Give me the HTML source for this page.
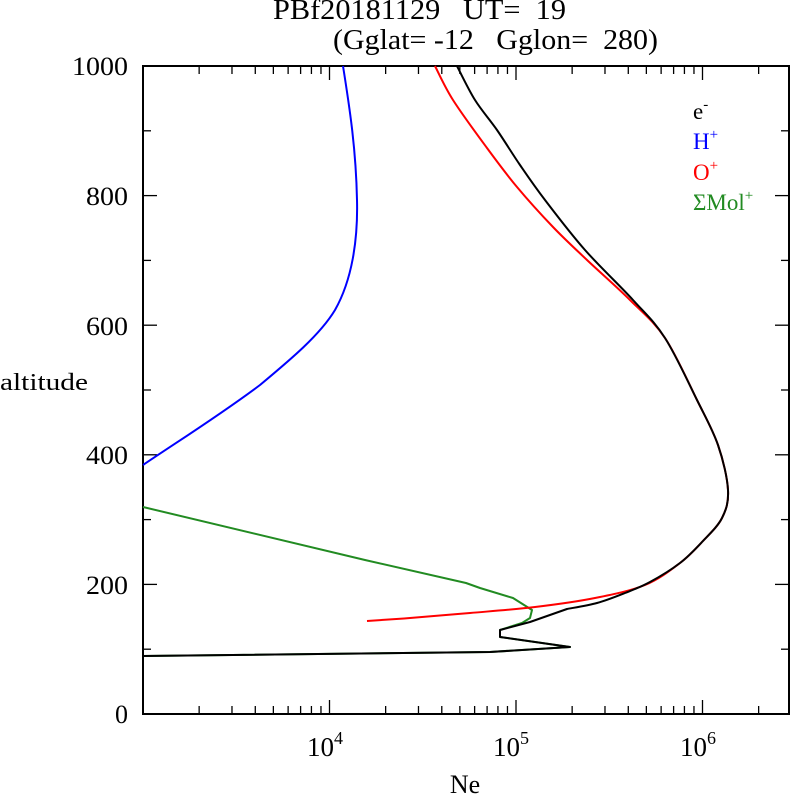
<!DOCTYPE html>
<html><head><meta charset="utf-8"><style>
body{margin:0;background:#fff}
svg{display:block;font-family:"Liberation Serif",serif}
</style></head><body>
<svg id="s" width="792" height="795" viewBox="0 0 792 795" xmlns="http://www.w3.org/2000/svg">
<g font-size="25">
<text x="273" y="19" textLength="293" lengthAdjust="spacingAndGlyphs" transform="translate(0 19) scale(1,1.15) translate(0 -19)">PBf20181129&#160;&#160;&#160;UT=&#160;&#160;19</text>
<text x="333" y="49" textLength="325" lengthAdjust="spacingAndGlyphs" transform="translate(0 49) scale(1,1.15) translate(0 -49)">(Gglat=&#160;-12&#160;&#160;&#160;Gglon=&#160;&#160;280)</text>
</g>
<g id="ticks" stroke="#000" stroke-width="1.3"></g>
<rect x="143" y="66" width="646" height="648" fill="none" stroke="#000" stroke-width="2"/>
<g font-size="26" text-anchor="end">
<text x="128" y="75" textLength="56" lengthAdjust="spacingAndGlyphs">1000</text>
<text x="128" y="205" textLength="42" lengthAdjust="spacingAndGlyphs">800</text>
<text x="128" y="335" textLength="42" lengthAdjust="spacingAndGlyphs">600</text>
<text x="128" y="464" textLength="42" lengthAdjust="spacingAndGlyphs">400</text>
<text x="128" y="594" textLength="42" lengthAdjust="spacingAndGlyphs">200</text>
<text x="128" y="723">0</text>
</g>
<text x="0" y="390" font-size="24" textLength="88" lengthAdjust="spacingAndGlyphs">altitude</text>
<g font-size="27" text-anchor="middle">
<text x="325" y="756">10<tspan font-size="18" dy="-12">4</tspan></text>
<text x="511" y="756">10<tspan font-size="18" dy="-12">5</tspan></text>
<text x="698" y="756">10<tspan font-size="18" dy="-12">6</tspan></text>
</g>
<text x="465" y="793" font-size="26" text-anchor="middle">Ne</text>
<g font-size="23">
<text x="693" y="119" fill="#000">e<tspan font-size="15" dy="-10">-</tspan></text>
<text x="693" y="149" fill="#0000ff">H<tspan font-size="15" dy="-10">+</tspan></text>
<text x="693" y="180" fill="#ff0000">O<tspan font-size="15" dy="-10">+</tspan></text>
<text x="693" y="210" fill="#228b22">ΣMol<tspan font-size="15" dy="-10">+</tspan></text>
</g>
<g fill="none" stroke-width="2" stroke-linejoin="round" id="curves">
<path stroke="#0000ff" d="M343,66 C350,110 356,150 357,200 C358,240 352,280 335,310 C320,335 290,360 260,385 C220,415 180,440 143,465"/>
<path stroke="#228b22" d="M143,507 L365,560 L466,583 L480,588 L513,598 L532,610 L530,618 L522,623 L500,630 L500,637 L570,647 L490,652 L143,656"/>
</g>
</svg>
<script>
var g=document.getElementById('ticks'),s='';
function L(x1,y1,x2,y2){s+='<line x1="'+x1+'" y1="'+y1+'" x2="'+x2+'" y2="'+y2+'"/>';}
for(var d=3;d<=6;d++)for(var m=1;m<10;m++){var v=d+Math.log10(m);if(v<=3||v>6.47)continue;var x=143+(v-3)*186.5;var len=m==1?14:8;L(x,714,x,714-len);L(x,66,x,66+len);}
for(var a=100;a<1000;a+=100){var y=714-a*0.648;var len=(a%200==0)?14:8;L(143,y,143+len,y);L(789,y,789-len,y);}
g.innerHTML=s;
function cr(p){var d='M'+p[0][0]+','+p[0][1];for(var i=0;i<p.length-1;i++){var a=p[i-1]||p[i],b=p[i],c=p[i+1],e=p[i+2]||c;
d+=' C'+(b[0]+(c[0]-a[0])/6)+','+(b[1]+(c[1]-a[1])/6)+' '+(c[0]-(e[0]-b[0])/6)+','+(c[1]-(e[1]-b[1])/6)+' '+c[0]+','+c[1];}return d;}
var red=[[435,66],[453,100],[487,148],[517,187],[553,227],[587,260],[630,300],[665,338],[697,400],[718,445],[728,490],[722,518],[702,542],[680,563],[645,585],[595,598],[535,607],[470,613],[410,618],[367,621]];
var blk=[[457,66],[475,100],[497,130],[520,165],[545,200],[585,250],[633,300],[665,338],[697,400],[718,445],[728,490],[722,518],[702,542],[680,563],[650,582],[625,593],[597,603],[567,609]];
var cv=document.getElementById('curves');
cv.innerHTML+='<path stroke="#ff0000" d="'+cr(red)+'"/>'+'<path stroke="#000" d="'+cr(blk)+' L530,622 L500,630 L500,637 L570,647 L490,652 L143,656"/>';
</script>
</body></html>
